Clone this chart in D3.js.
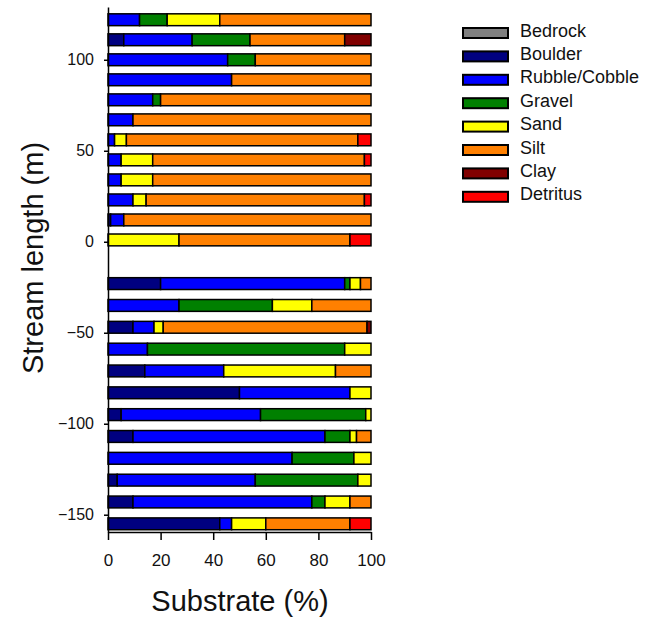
<!DOCTYPE html>
<html>
<head>
<meta charset="utf-8">
<script src="https://cdn.jsdelivr.net/npm/d3@7"></script>
<style>
  html, body { margin: 0; padding: 0; background: #fff; }
  svg { display: block; }
  text { font-family: "Liberation Sans", Arial, sans-serif; fill: #111; }
</style>
</head>
<body>
<svg id="chart" width="657" height="620"></svg>
<script>
// ---- data ----
const categories = ["Bedrock", "Boulder", "Rubble/Cobble", "Gravel", "Sand", "Silt", "Clay", "Detritus"];
const colors = ["#808080", "#000080", "#0000FF", "#008000", "#FFFF00", "#FF8000", "#800000", "#FF0000"];
const positions = [122, 111, 100, 89, 78, 67, 56, 45, 34, 23, 12, 1,
                   -23, -35, -47, -59, -71, -83, -95, -107, -119, -131, -143, -155];
const bedrock  = [0,0,0,0,0,0,0,0,0,0,0,0, 0,0,0,0,0,0,0,0,0,0,0,0];
const boulder  = [0,6,0,0,0,0,0,0,0,0,1,0, 20,0,9.5,0,14,50,5,9.5,0,3.5,9.5,42.5];
const rubble   = [12,26,45.5,47,17,9.5,2.5,5,5,9.5,5,0, 70,27,8,15,30,42,53,73,70,52.5,68,4.5];
const gravel   = [10.5,22,10.5,0,3,0,0,0,0,0,0,0, 2,35.5,0,75,0,0,40,9.5,23.5,39,5,0];
const sand     = [20,0,0,0,0,0,4.5,12,12,5,0,27, 4,15,3.5,10,42.5,8,2,2.5,6.5,5,9.5,13];
const silt     = [57.5,36,44,53,80,90.5,88,80.5,83,83,94,65, 4,22.5,77.5,0,13.5,0,0,5.5,0,0,8,32];
const clay     = [0,10,0,0,0,0,0,0,0,0,0,0, 0,0,1.5,0,0,0,0,0,0,0,0,0];
const detritus = [0,0,0,0,0,0,5,2.5,0,2.5,0,8, 0,0,0,0,0,0,0,0,0,0,0,8];
const xTicks = [0, 20, 40, 60, 80, 100];
const yTicks = [-150, -100, -50, 0, 50, 100];

// ---- build table ----
const seriesArrays = [bedrock, boulder, rubble, gravel, sand, silt, clay, detritus];
const rows = positions.map((p, i) => {
  const r = { pos: p };
  categories.forEach((c, k) => { r[c] = seriesArrays[k][i]; });
  return r;
});

const svg = d3.select("#chart");
const x = d3.scaleLinear().domain([0, 100]).range([108, 371]);
const y = d3.scaleLinear().domain([-159.5, 129]).range([532, 7]);
const color = d3.scaleOrdinal().domain(categories).range(colors);
const barHalf = 3.25;

const stack = d3.stack().keys(categories);
const stacked = stack(rows);

const g = svg.append("g");
stacked.forEach(layer => {
  g.selectAll(null)
    .data(layer.filter(d => d[1] - d[0] > 0))
    .enter().append("rect")
    .attr("x", d => x(d[0]))
    .attr("width", d => x(d[1]) - x(d[0]))
    .attr("y", d => y(d.data.pos + barHalf))
    .attr("height", d => y(d.data.pos - barHalf) - y(d.data.pos + barHalf))
    .attr("fill", color(layer.key))
    .attr("stroke", "#000")
    .attr("stroke-width", 1.5);
});

// ---- axes ----
const yAxis = d3.axisLeft(y).tickValues(yTicks).tickSize(4).tickSizeOuter(0).tickPadding(10);
const yG = svg.append("g").attr("transform", "translate(108,0)").call(yAxis);
yG.select(".domain").attr("stroke", "#000").attr("stroke-width", 1.5);
yG.selectAll(".tick line").attr("stroke", "#000").attr("stroke-width", 1.5);
yG.selectAll(".tick text").style("font-size", "16px").style("font-family", "'Liberation Sans', Arial, sans-serif").attr("fill", "#111");

const xAxis = d3.axisBottom(x).tickValues(xTicks).tickSize(8).tickSizeOuter(0).tickPadding(14);
const xG = svg.append("g").attr("transform", "translate(0,532)").call(xAxis);
xG.select(".domain").attr("stroke", "#000").attr("stroke-width", 1.5);
xG.selectAll(".tick line").attr("stroke", "#000").attr("stroke-width", 1.5);
xG.selectAll(".tick text").style("font-size", "17px").style("font-family", "'Liberation Sans', Arial, sans-serif").attr("fill", "#111");

// ---- axis titles ----
svg.append("text")
  .attr("x", 240).attr("y", 611)
  .attr("text-anchor", "middle")
  .style("font-size", "29px")
  .text("Substrate (%)");

svg.append("text")
  .attr("transform", "translate(43,258) rotate(-90)")
  .attr("text-anchor", "middle")
  .style("font-size", "29px")
  .text("Stream length (m)");

// ---- legend ----
const legend = svg.append("g").attr("transform", "translate(463,33)");
const item = legend.selectAll("g").data(categories).enter().append("g")
  .attr("transform", (d, i) => `translate(0,${i * 23.4})`);
item.append("rect")
  .attr("x", 0).attr("y", -5).attr("width", 45).attr("height", 10)
  .attr("fill", d => color(d))
  .attr("stroke", "#000").attr("stroke-width", 2);
item.append("text")
  .attr("x", 57).attr("y", 0).attr("dy", "0.2em")
  .style("font-size", "18px")
  .text(d => d);
</script>
</body>
</html>
